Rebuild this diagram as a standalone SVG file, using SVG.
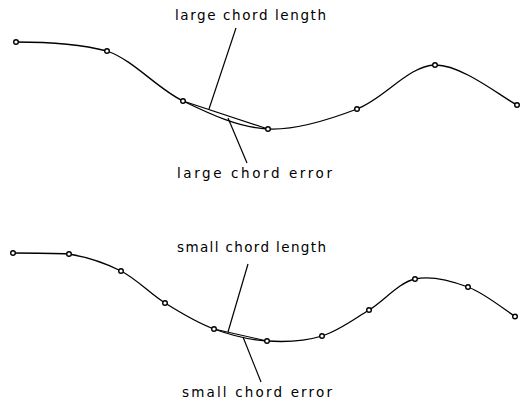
<svg xmlns="http://www.w3.org/2000/svg" width="528" height="401" viewBox="0 0 528 401">
<style>
.crv{fill:none;stroke:#000;stroke-width:1.3;stroke-linecap:round}
.chd{fill:none;stroke:#000;stroke-width:1.1}
.pt{fill:#fff;stroke:#000;stroke-width:1.4}
.ldr{fill:none;stroke:#000;stroke-width:1.2}
.lbl{font-family:"DejaVu Sans","Liberation Sans",sans-serif;font-size:13.5px;fill:#000}
</style>
<rect width="528" height="401" fill="#fff"/>
<g id="top-curve">
<path class="crv" d="M16,42 C50,42 80,44 107,51 C134.8,60.8 156.2,88 183,101 C209.8,114 239,127.7 268,129 C297,130.3 329.2,119.7 357,109 C384.8,98.3 408.3,65.7 435,65 C461.7,64.3 503.3,98.3 517,105"/>
<line class="chd" x1="183" y1="101" x2="268" y2="129"/>
<g class="pt">
<circle cx="16" cy="42" r="2.3"/><circle cx="107" cy="51" r="2.3"/><circle cx="183" cy="101" r="2.3"/><circle cx="268" cy="129" r="2.3"/><circle cx="357" cy="109" r="2.3"/><circle cx="435" cy="65" r="2.3"/><circle cx="517" cy="105" r="2.3"/>
</g>
</g>
<g id="bottom-curve">
<path class="crv" d="M13,253 C25,253 51,253 69,254 C87,257 105,262.8 121,271 C137,279.2 149.5,293.3 165,303 C180.5,312.7 197,322.7 214,329 C231,335.3 249,339.8 267,341 C285,342.2 305,341.2 322,336 C339,330.8 353.5,319.5 369,310 C384.5,300.5 398.5,282.8 415,279 C431.5,275.2 451.3,280.75 468,287 C484.7,293.25 507.2,311.6 515,316.5"/>
<line class="chd" x1="214" y1="329" x2="267" y2="341"/>
<g class="pt">
<circle cx="13" cy="253" r="2.3"/><circle cx="69" cy="254" r="2.3"/><circle cx="121" cy="271" r="2.3"/><circle cx="165" cy="303" r="2.3"/><circle cx="214" cy="329" r="2.3"/><circle cx="267" cy="341" r="2.3"/><circle cx="322" cy="336" r="2.3"/><circle cx="369" cy="310" r="2.3"/><circle cx="415" cy="279" r="2.3"/><circle cx="468" cy="287" r="2.3"/><circle cx="515" cy="316.5" r="2.3"/>
</g>
</g>
<g id="connectors">
<line class="ldr" x1="236" y1="28" x2="209" y2="109"/>
<line class="ldr" x1="228" y1="118" x2="247" y2="163"/>
<line class="ldr" x1="248" y1="264" x2="228" y2="332"/>
<line class="ldr" x1="243" y1="337" x2="261" y2="382"/>
</g>
<g id="label-large-length"><text class="lbl" x="175" y="20" textLength="151" lengthAdjust="spacing">large chord length</text></g>
<g id="label-large-error"><text class="lbl" x="177" y="178" textLength="155" lengthAdjust="spacing">large chord error</text></g>
<g id="label-small-length"><text class="lbl" x="177" y="252" textLength="149" lengthAdjust="spacing">small chord length</text></g>
<g id="label-small-error"><text class="lbl" x="182" y="397" textLength="150" lengthAdjust="spacing">small chord error</text></g>
</svg>
